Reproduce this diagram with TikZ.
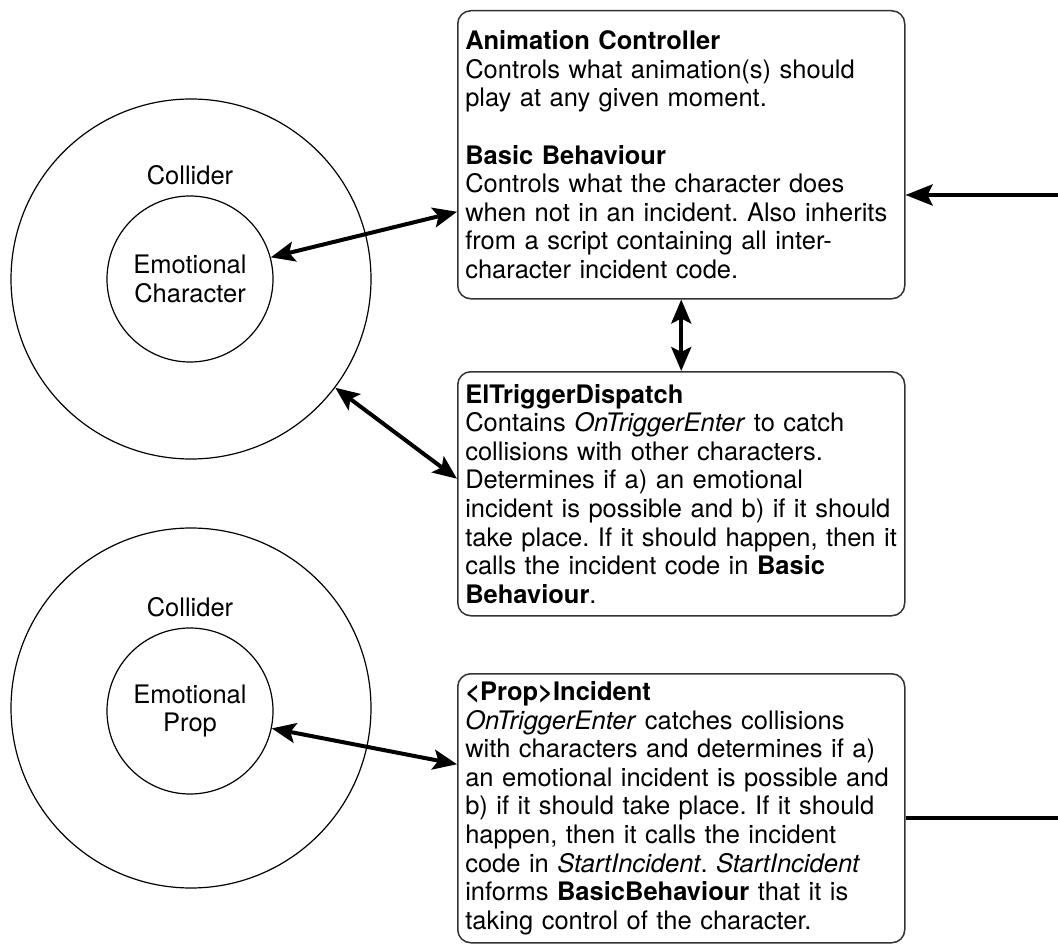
\documentclass[tikz,border=0pt]{standalone}
\usepackage{fontspec}
\setmainfont{TeX Gyre Heros}
\usetikzlibrary{arrows.meta}
\frenchspacing

\begin{document}
\begin{tikzpicture}[x=1pt,y=-1pt,
  every node/.style={font=\fontsize{25.5}{28.6}\selectfont},
  scriptbox/.style={draw=black!80, line width=1.5pt, rounded corners=13pt, anchor=north west,
    text width=432pt, inner xsep=7.5pt, inner ysep=0pt, align=left},
  ring/.style={draw, circle, line width=1.2pt, inner sep=0pt, align=center},
  link/.style={line width=4pt, {Stealth[length=24pt,width=20pt,inset=5pt]}-{Stealth[length=24pt,width=20pt,inset=5pt]}},
  feed/.style={line width=4pt, -{Stealth[length=27pt,width=21pt,inset=5pt]}}]
\useasboundingbox (0,0) rectangle (1058,944);
% Character Collider
\node[ring, minimum size=360pt] (charcol) at (191,279) {};
\node (charlbl) at (190,175) {Collider};
\node[ring, minimum size=166pt] (charcore) at (190,279) {Emotional\\Character};
% Prop Collider
\node[ring, minimum size=360pt] (propcol) at (191,708) {};
\node (proplbl) at (190,607) {Collider};
\node[ring, minimum size=166pt] (propcore) at (190,711) {Emotional\\Prop};
% Script Boxes
\node[scriptbox, minimum height=288pt] (ctrl) at (457,10) {%
  \textbf{Animation Controller}\\
  Controls what animation(s) should\\
  play at any given moment.\\[28.6pt]
  \textbf{Basic Behaviour}\\
  Controls what the character does\\
  when not in an incident. Also inherits\\
  from a script containing all inter-\\
  character incident code.};
\node[scriptbox, minimum height=244pt] (dispatch) at (457,371) {%
  \textbf{ElTriggerDispatch}\\
  Contains \textit{OnTriggerEnter} to catch\\
  collisions with other characters.\\
  Determines if a) an emotional\\
  incident is possible and b) if it should\\
  take place. If it should happen, then it\\
  calls the incident code in \textbf{Basic}\\
  \textbf{Behaviour}.};
\node[scriptbox, minimum height=269pt] (incident) at (457,673) {%
  \textbf{<Prop>Incident}\\
  \textit{OnTriggerEnter} catches collisions\\
  with characters and determines if a)\\
  an emotional incident is possible and\\
  b) if it should take place. If it should\\
  happen, then it calls the incident\\
  code in \textit{StartIncident}. \textit{StartIncident}\\
  informs \textbf{BasicBehaviour} that it is\\
  taking control of the character.};
% Off-page Ends
\coordinate (ctrlin) at (1058,195);
\coordinate (incout) at (1058,818);
% Links
\draw[link] (charcore.15) -- ([yshift=-57pt]ctrl.west);
\draw[link] (ctrl.south) -- (dispatch.north);
\draw[link] (charcol.-37) -- ([yshift=15pt]dispatch.west);
\draw[link] (propcore.-12) -- ([yshift=44pt]incident.west);
\draw[feed] (ctrlin) -- (ctrl.east |- ctrlin);
\draw[line width=4pt] (incident.east |- incout) -- (incout);
\end{tikzpicture}
\end{document}
